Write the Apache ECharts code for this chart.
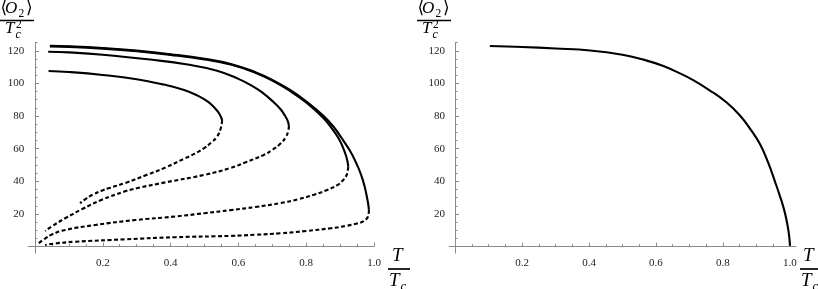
<!DOCTYPE html>
<html><head><meta charset="utf-8">
<script src="https://cdn.jsdelivr.net/npm/echarts@6/dist/echarts.min.js"></script>
<style>html,body{margin:0;padding:0;background:#fff}#c{width:818px;height:289px}</style>
</head><body><div id="c"></div>
<script>
// ---- tick labels ----
const xTickLabels = [0.2, 0.4, 0.6, 0.8, 1.0];
const yTickLabels = [20, 40, 60, 80, 100, 120];
const xMinorTicks = [0.05,0.1,0.15,0.25,0.3,0.35,0.45,0.5,0.55,0.65,0.7,0.75,0.85,0.9,0.95];
const yMinorTicks = [5,10,15,25,30,35,45,50,55,65,70,75,85,90,95,105,110,115,125];

// ---- left panel: four branches (solid = upper, dashed = lower) ----
const curveA_upper = [[0.040,107.6],[0.10,107.0],[0.20,105.2],[0.30,102.6],[0.38,99.3],[0.44,96.0],[0.48,92.5],[0.51,88.8],[0.53,85.0],[0.545,81.0],[0.552,77.5]];
const curveA_lower = [[0.552,77.5],[0.548,72.5],[0.537,67.4],[0.52,63.8],[0.50,60.5],[0.47,56.8],[0.439,53.8],[0.385,48.5],[0.33,44.0],[0.266,39.0],[0.22,36.0],[0.197,34.3],[0.17,31.8],[0.15,29.3],[0.133,26.6]];
const curveB_upper = [[0.039,119.4],[0.10,119.0],[0.20,117.6],[0.34,114.6],[0.45,111.6],[0.537,107.8],[0.60,102.8],[0.636,99.0],[0.67,94.5],[0.705,88.3],[0.725,84.0],[0.738,80.0],[0.746,76.8],[0.749,74.0]];
const curveB_lower = [[0.749,74.0],[0.747,70.8],[0.74,67.2],[0.725,63.3],[0.70,59.3],[0.675,56.2],[0.62,51.6],[0.577,48.2],[0.50,44.0],[0.385,39.4],[0.30,35.8],[0.266,33.9],[0.197,28.7],[0.138,22.9],[0.089,17.4],[0.05,12.5],[0.03,9.6]];
const curveC_upper = [[0.044,122.7],[0.10,122.4],[0.20,121.3],[0.30,119.7],[0.40,117.5],[0.50,114.7],[0.58,111.4],[0.65,106.5],[0.70,101.7],[0.75,95.7],[0.80,88.3],[0.85,78.9],[0.875,72.6],[0.895,66.6],[0.908,61.0],[0.917,56.0],[0.922,52.0],[0.924,49.0]];
const curveC_lower = [[0.924,49.0],[0.922,46.0],[0.917,42.9],[0.905,40.0],[0.893,37.8],[0.86,34.6],[0.823,31.8],[0.775,29.0],[0.725,26.7],[0.65,24.3],[0.577,22.4],[0.50,20.5],[0.414,18.5],[0.296,16.3],[0.178,13.3],[0.089,10.2],[0.05,7.5],[0.03,5.0],[0.01,2.0]];
const curveD_upper = [[0.044,123.1],[0.10,122.8],[0.20,121.7],[0.30,120.1],[0.40,117.9],[0.50,115.1],[0.58,111.8],[0.65,106.9],[0.70,102.2],[0.75,96.3],[0.80,89.1],[0.85,80.3],[0.88,73.6],[0.905,66.4],[0.93,58.4],[0.948,51.0],[0.962,44.0],[0.972,37.2],[0.979,30.5],[0.983,26.0],[0.985,22.5]];
const curveD_lower = [[0.985,22.5],[0.984,20.0],[0.98,17.6],[0.97,15.6],[0.95,14.2],[0.92,12.8],[0.873,11.3],[0.80,9.6],[0.725,8.2],[0.65,7.3],[0.577,6.6],[0.414,5.8],[0.266,4.5],[0.118,3.0],[0.06,2.0],[0.03,1.0]];

// ---- right panel ----
const curveR = [[0.104,122.9],[0.20,122.3],[0.30,121.4],[0.403,120.2],[0.50,117.6],[0.562,114.6],[0.62,110.8],[0.67,106.3],[0.711,102.0],[0.76,95.8],[0.811,88.3],[0.85,80.5],[0.88,72.5],[0.91,63.0],[0.935,51.5],[0.955,40.0],[0.97,31.0],[0.982,23.0],[0.991,15.0],[0.997,7.5],[1.0,0.5]];

const FONT = "'Liberation Serif','Times New Roman','DejaVu Serif',serif";
const AX = '#8a8a8a';

function xAxes(g, xmin, xmax) {
  return [
    {type:'value', gridIndex:g, min:xmin, max:xmax, position:'bottom',
     axisLine:{show:true, onZero:true, lineStyle:{color:AX, width:1}},
     splitLine:{show:false},
     axisTick:{show:true, inside:true, length:4, customValues:xTickLabels, lineStyle:{color:AX}},
     axisLabel:{show:true, customValues:xTickLabels, formatter:v=>v.toFixed(1), margin:4, color:'#222', fontFamily:FONT, fontSize:11}},
    {type:'value', gridIndex:g, min:xmin, max:xmax, position:'top',
     axisLine:{show:false, onZero:true},
     splitLine:{show:false},
     axisTick:{show:true, inside:false, length:2.5, customValues:xMinorTicks, lineStyle:{color:AX}},
     axisLabel:{show:false}}
  ];
}
function yAxes(g) {
  return [
    {type:'value', gridIndex:g, min:-4, max:125, position:'left',
     axisLine:{show:true, onZero:true, lineStyle:{color:AX, width:1}},
     splitLine:{show:false},
     axisTick:{show:true, inside:true, length:4, customValues:yTickLabels, lineStyle:{color:AX}},
     axisLabel:{show:true, customValues:yTickLabels, margin:4, color:'#222', fontFamily:FONT, fontSize:11}},
    {type:'value', gridIndex:g, min:-4, max:125, position:'right',
     axisLine:{show:false, onZero:true},
     splitLine:{show:false},
     axisTick:{show:true, inside:false, length:2.5, customValues:yMinorTicks, lineStyle:{color:AX}},
     axisLabel:{show:false}}
  ];
}
function ser(data, dashed, xi, yi) {
  return {type:'line', xAxisIndex:xi, yAxisIndex:yi, data:data, showSymbol:false, symbol:'none',
    smooth:0.45, silent:true, animation:false,
    lineStyle:{color:'#000', width:2.1, type: dashed ? [4,2.5] : 'solid'}};
}
function txt(x, base, s, fs, italic) {
  return {type:'text', x:x, y:base - 0.3*fs, silent:true,
    style:{text:s, font:(italic?'italic ':'') + fs + 'px ' + FONT, fill:'#000',
      align:'left', verticalAlign:'middle', textAlign:'left', textVerticalAlign:'middle'}};
}
function bar(x1, x2, y) {
  return {type:'line', silent:true, shape:{x1:x1, y1:y, x2:x2, y2:y}, style:{stroke:'#000', lineWidth:1.7}};
}
function yTitle(ox) {
  return [
    txt(ox+0.5, 13.5, '⟨', 17, false),
    txt(ox+5, 13.5, 'O', 17, true),
    txt(ox+18.5, 17, '2', 11.5, false),
    txt(ox+26, 13.5, '⟩', 17, false),
    bar(ox, ox+34, 20.5),
    txt(ox+5, 33.5, 'T', 17, true),
    txt(ox+16, 28.5, '2', 11.5, false),
    txt(ox+15.5, 38, 'c', 12, true)
  ];
}
function xTitle(ox, lx1, lx2) {
  return [
    txt(ox, 261.5, 'T', 19, true),
    bar(lx1, lx2, 269),
    txt(lx1+1, 286.5, 'T', 19, true),
    txt(lx1+12.5, 290, 'c', 13, true)
  ];
}

const chart = echarts.init(document.getElementById('c'), null, {renderer:'canvas'});
chart.setOption({
  animation:false,
  backgroundColor:'#fff',
  grid:[
    {left:28.2, top:42.6, width:345.8, height:210.6, containLabel:false, outerBoundsMode:'none'},
    {left:449, top:42.6, width:347, height:210.6, containLabel:false, outerBoundsMode:'none'}
  ],
  xAxis: [].concat(xAxes(0, -0.02, 1.0), xAxes(1, -0.018, 1.018)),
  yAxis: [].concat(yAxes(0), yAxes(1)),
  series:[
    ser(curveA_upper,false,0,0), ser(curveA_lower,true,0,0),
    ser(curveB_upper,false,0,0), ser(curveB_lower,true,0,0),
    ser(curveC_upper,false,0,0), ser(curveC_lower,true,0,0),
    ser(curveD_upper,false,0,0), ser(curveD_lower,true,0,0),
    ser(curveR,false,2,2)
  ],
  graphic:{elements: [].concat(yTitle(0), yTitle(417), xTitle(392, 388, 410), xTitle(803, 800, 818))}
});
</script>
</body></html>
